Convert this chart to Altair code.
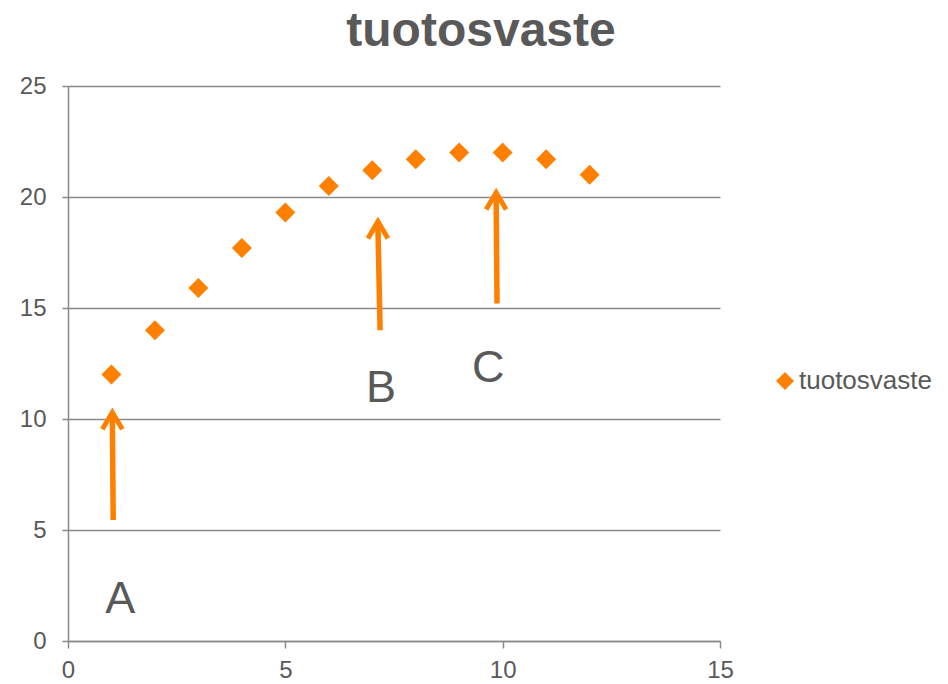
import altair as alt
import pandas as pd

# data
x_vals = list(range(1, 13))
y_vals = [12.0, 14.0, 15.9, 17.7, 19.3, 20.5, 21.2, 21.7, 22.0, 22.0, 21.7, 21.0]
series_name = "tuotosvaste"

arrow_x0 = [1.04, 7.18, 9.87]
arrow_y0 = [5.45, 14.0, 15.2]
arrow_x1 = [1.02, 7.13, 9.85]
arrow_y1 = [10.3, 18.9, 20.2]

label_text = ["A", "B", "C"]
label_x = [1.2, 7.2, 9.67]
label_y = [1.26, 10.78, 11.65]

x_ticks = [0, 5, 10, 15]
y_ticks = [0, 5, 10, 15, 20, 25]

ORANGE = "#FF8000"
TEXT = "#595959"
GRID = "#8a8a8a"
FONT = "Liberation Sans"

pts = pd.DataFrame({"x": x_vals, "y": y_vals, "series": [series_name] * len(x_vals)})
arrows = pd.DataFrame({"x0": arrow_x0, "y0": arrow_y0, "x1": arrow_x1,
                       "y1": arrow_y1, "y1s": [v - 0.2 for v in arrow_y1]})
labels = pd.DataFrame({"t": label_text, "x": label_x, "y": label_y})

xs = alt.Scale(domain=[0, 15], nice=False, zero=True)
ys = alt.Scale(domain=[0, 25], nice=False, zero=True)
x_axis = alt.Axis(values=x_ticks, title=None, grid=False, tickSize=7, labelPadding=10,
                  labelFontSize=24, labelFont=FONT, labelColor=TEXT, labelFlush=False,
                  domainColor=GRID, tickColor=GRID, domainWidth=1.5, tickWidth=1.5)
y_axis = alt.Axis(values=y_ticks, title=None, grid=True, tickSize=6, labelPadding=16,
                  labelFontSize=24, labelFont=FONT, labelColor=TEXT, labelFlush=False,
                  gridColor=GRID, gridWidth=1.5, domainColor=GRID, tickColor=GRID,
                  domainWidth=1.5, tickWidth=1.5)

points = alt.Chart(pts).mark_point(shape="diamond", filled=True, size=400, opacity=1).encode(
    x=alt.X("x:Q", scale=xs, axis=x_axis),
    y=alt.Y("y:Q", scale=ys, axis=y_axis),
    color=alt.Color("series:N", scale=alt.Scale(range=[ORANGE]),
                    legend=alt.Legend(title=None, orient="none", legendX=704, legendY=282,
                                      labelFontSize=26, labelColor=TEXT, labelFont=FONT,
                                      symbolSize=324, symbolType="diamond", padding=0,
                                      labelOffset=1, symbolStrokeWidth=0)),
)

shafts = alt.Chart(arrows).mark_rule(strokeWidth=5.5, color=ORANGE).encode(
    x=alt.X("x0:Q", scale=xs, axis=x_axis),
    y=alt.Y("y0:Q", scale=ys, axis=y_axis),
    x2="x1:Q",
    y2="y1s:Q",
)

heads = alt.Chart(arrows).mark_point(shape="M-1,1.7L0,0L1,1.7", filled=False, size=400,
                                     strokeWidth=5, color=ORANGE, opacity=1).encode(
    x=alt.X("x1:Q", scale=xs, axis=x_axis),
    y=alt.Y("y1:Q", scale=ys, axis=y_axis),
)

texts = alt.Chart(labels).mark_text(fontSize=45, font=FONT, color=TEXT,
                                    baseline="alphabetic", align="center").encode(
    x=alt.X("x:Q", scale=xs, axis=x_axis),
    y=alt.Y("y:Q", scale=ys, axis=y_axis),
    text="t:N",
)

chart = alt.layer(points, shafts, heads, texts).properties(
    width=652, height=555,
    autosize=alt.AutoSizeParams(type="none"),
    padding={"left": 60, "top": 78, "right": 216, "bottom": 42},
    title=alt.TitleParams(series_name, fontSize=48, font=FONT, fontWeight="bold",
                          color=TEXT, dx=87, offset=18, anchor="middle"),
).configure_view(stroke=None)

chart.save("out.html", embed_options={"renderer": "svg", "actions": False})
